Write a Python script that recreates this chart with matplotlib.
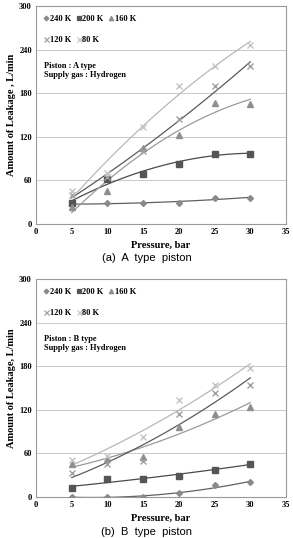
import numpy as np
from matplotlib import pyplot as plt
from matplotlib.lines import Line2D

# data
pressure = np.array([5, 10, 15, 20, 25, 30])
temps = ['240 K', '200 K', '160 K', '120 K', '80 K']

# A type piston
a_240 = [27, 29, 29, 29, 36, 36]
a_200 = [29, 62, 69, 83, 97, 97]
a_160 = [23, 45, 105, 123, 166, 165]
a_120 = [40, 65, 100, 144, 190, 218]
a_80 = [45, 70, 134, 190, 218, 247]

# B type piston
b_240 = [0, 0, 0, 5, 16, 20]
b_200 = [12, 25, 25, 29, 37, 46]
b_160 = [45, 52, 55, 97, 114, 124]
b_120 = [33, 46, 50, 114, 143, 154]
b_80 = [51, 57, 82, 133, 154, 178]

# styles per temperature
markers = ['D', 's', '^', 'x', 'x']
msizes = [3, 4, 4, 4.5, 4.5]
mcolors = ['#8a8a8a', '#555555', '#8f8f8f', '#a0a0a0', '#c4c4c4']
lcolors = ['#606060', '#4a4a4a', '#9a9a9a', '#5a5a5a', '#b8b8b8']

serif = 'Liberation Serif'

fig = plt.figure(figsize=(2.93, 5.38), dpi=100)


def draw(ax, series, piston, ylab):
    xs = np.linspace(5, 30, 60)
    for i, ys in enumerate(series):
        fit = np.polyfit(pressure, ys, 2)
        ax.plot(xs, np.polyval(fit, xs), color=lcolors[i], lw=0.9, zorder=2)
        ax.plot(pressure, ys, ls='none', marker=markers[i], ms=msizes[i],
                color=mcolors[i], mew=1.0, zorder=3)
    ax.set_xlim(0, 35)
    ax.set_ylim(0, 300)
    ax.set_xticks(np.arange(0, 36, 5))
    ax.set_yticks(np.arange(0, 301, 60))
    ax.yaxis.grid(True, color='#c8c8c8', lw=0.7)
    ax.set_axisbelow(True)
    for s in ax.spines.values():
        s.set_color('#9a9a9a')
        s.set_linewidth(0.8)
    ax.tick_params(length=0, pad=3, labelsize=6)
    for lab in ax.get_xticklabels() + ax.get_yticklabels():
        lab.set_fontfamily(serif)
        lab.set_fontweight('bold')
    ax.set_xlabel('Pressure, bar', fontfamily=serif, fontweight='bold', fontsize=7.5, labelpad=3)
    ax.set_ylabel(ylab, fontfamily=serif, fontweight='bold', fontsize=7.5, labelpad=2)

    # legend in two rows
    h = [Line2D([], [], ls='none', marker=markers[i], ms=msizes[i] * 0.8,
                color=mcolors[i], mew=0.9) for i in range(5)]
    l1 = ax.legend(h[:3], temps[:3], loc='upper left', bbox_to_anchor=(0.0, 0.995), ncol=3,
                   frameon=False, handlelength=0.6, handletextpad=0.15, columnspacing=0.6,
                   prop={'family': serif, 'weight': 'bold', 'size': 6})
    ax.add_artist(l1)
    ax.legend(h[3:], temps[3:], loc='upper left', bbox_to_anchor=(0.0, 0.895), ncol=2,
              frameon=False, handlelength=0.6, handletextpad=0.15, columnspacing=0.6,
              prop={'family': serif, 'weight': 'bold', 'size': 6})
    ax.text(0.03, 0.745, 'Piston : %s type\nSupply gas : Hydrogen' % piston,
            transform=ax.transAxes, va='top', ha='left', fontfamily=serif,
            fontweight='bold', fontsize=6, linespacing=1.3)


ax1 = fig.add_axes([0.123, 0.5836, 0.853, 0.4052])
draw(ax1, [a_240, a_200, a_160, a_120, a_80], 'A', 'Amount of Leakage , L/min')
ax2 = fig.add_axes([0.123, 0.0762, 0.853, 0.4052])
draw(ax2, [b_240, b_200, b_160, b_120, b_80], 'B', 'Amount of Leakage, L/min')

fig.text(0.5, 1 - 258 / 538, '(a)  A  type  piston', ha='center', va='center',
         fontfamily='Liberation Sans', fontsize=8)
fig.text(0.5, 1 - 532 / 538, '(b)  B  type  piston', ha='center', va='center',
         fontfamily='Liberation Sans', fontsize=8)

fig.savefig('out.png', dpi=100)
